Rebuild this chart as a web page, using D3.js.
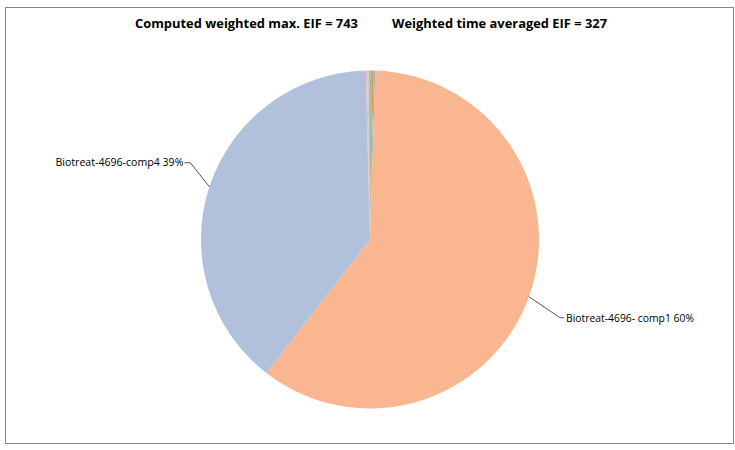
<!DOCTYPE html>
<html><head><meta charset="utf-8">
<script src="https://cdn.jsdelivr.net/npm/d3@7"></script>
<style>html,body{margin:0;padding:0;background:#fff;}svg{display:block;}</style>
</head><body>
<script>
const categories = ["Biotreat-4696-comp2","Biotreat-4696-comp3","Biotreat-4696-comp5","Biotreat-4696-comp1","Biotreat-4696-comp4","Biotreat-4696-comp6","Biotreat-4696-comp7","Biotreat-4696-comp8"];
const values = [0.2, 0.15, 0.15, 60.0, 39.1, 0.15, 0.1, 0.15];
const colors = ["#9BC57F","#F08A4E","#8DB3DE","#F9B690","#B1C0DB","#F2B5C6","#C9C3E0","#BDBDBD"];
const shownLabels = ["Biotreat-4696- comp1", "Biotreat-4696-comp4"];
const titleParts = ["Computed weighted max. EIF = 743", "Weighted time averaged EIF = 327"];

const W = 735, H = 450;
const svg = d3.select("body").append("svg").attr("width", W).attr("height", H);
svg.append("rect").attr("x",5.5).attr("y",7.5).attr("width",728).attr("height",436)
  .attr("fill","#fff").attr("stroke","#878787").attr("stroke-width",1);

const title = svg.append("g").attr("font-family","'Open Sans', 'Noto Sans', sans-serif")
  .attr("font-weight","bold").attr("font-size",12.5).attr("fill","#000");
title.append("text").attr("x",135).attr("y",28).attr("textLength",223).attr("lengthAdjust","spacingAndGlyphs").text(titleParts[0]);
title.append("text").attr("x",392).attr("y",28).attr("textLength",215).attr("lengthAdjust","spacingAndGlyphs").text(titleParts[1]);

const cx = 370, cy = 239.5, r = 169;
const total = d3.sum(values);
const pie = d3.pie().sort(null).value(d => d.v);
const data = pie(categories.map((c,i)=>({c, v: values[i], col: colors[i]})));
const arc = d3.arc().innerRadius(0).outerRadius(r);
const g = svg.append("g").attr("transform",`translate(${cx},${cy})`);
g.selectAll("path").data(data).enter().append("path")
  .attr("d", arc).attr("fill", d => d.data.col);

// labels for the two main slices
const labelInfo = [
  {idx: 3, text: shownLabels[0] + " " + Math.round(values[3]/total*100) + "%", side: "right"},
  {idx: 4, text: shownLabels[1] + " " + Math.round(values[4]/total*100) + "%", side: "left"}
];
const lg = svg.append("g");
labelInfo.forEach(L => {
  const d = data[L.idx];
  const a = (d.startAngle + d.endAngle)/2;
  const ex = cx + Math.sin(a)*r, ey = cy - Math.cos(a)*r;
  let pts, tx, ty, anchor;
  if (L.side === "right") {
    pts = [[ex,ey],[ex + 31, ey + 21],[ex + 35, ey + 21]];
    tx = ex + 37; ty = ey + 25; anchor = "start";
  } else {
    pts = [[ex,ey],[ex - 19, ey - 24],[ex - 25, ey - 24]];
    tx = ex - 26; ty = ey - 20.5; anchor = "end";
  }
  lg.append("polyline").attr("points", pts.map(p=>p.join(",")).join(" "))
    .attr("fill","none").attr("stroke","#555").attr("stroke-width",1);
  lg.append("text").attr("x",tx).attr("y",ty).attr("text-anchor",anchor)
    .attr("font-family","'Open Sans', 'Noto Sans', sans-serif").attr("font-size",10)
    .attr("fill","#000").attr("textLength",128).attr("lengthAdjust","spacingAndGlyphs").text(L.text);
});
</script>
</body></html>
